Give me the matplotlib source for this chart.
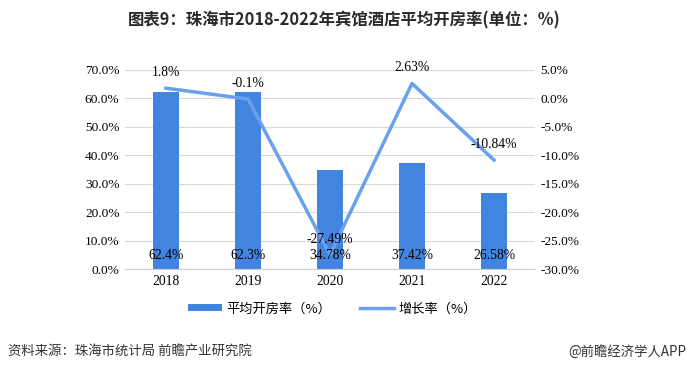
import matplotlib.pyplot as plt
import numpy as np

plt.rcParams['font.family'] = ['Noto Sans CJK SC', 'DejaVu Sans']

years = ['2018', '2019', '2020', '2021', '2022']
occupancy = [62.4, 62.3, 34.78, 37.42, 26.58]
growth = [1.8, -0.1, -27.49, 2.63, -10.84]
occ_labels = ['62.4%', '62.3%', '34.78%', '37.42%', '26.58%']
growth_labels = ['1.8%', '-0.1%', '-27.49%', '2.63%', '-10.84%']

bar_color = '#4285e0'
line_color = '#6aa0ec'
serif = 'Liberation Serif'

fig = plt.figure(figsize=(6.89, 3.73), dpi=100)
ax = fig.add_axes([125 / 689, 1 - 269 / 373, 410 / 689, 199 / 373])
ax2 = ax.twinx()

x = np.arange(len(years))
ax.bar(x, occupancy, width=0.32, color=bar_color, zorder=2, label='平均开房率（%）')
ax.set_xlim(-0.5, 4.5)
ax.set_ylim(0, 70)
ax.set_yticks(np.arange(0, 71, 10))
ax.set_yticklabels([f'{v:.1f}%' for v in np.arange(0, 71, 10)], fontfamily=serif, fontsize=9.6)
ax.set_xticks(x)
ax.set_xticklabels(years, fontfamily=serif, fontsize=9.8)
ax.grid(axis='y', color='#d9d9d9', linewidth=0.8, zorder=0)
ax.set_axisbelow(True)
for s in ['top', 'right', 'left']:
    ax.spines[s].set_visible(False)
ax.spines['bottom'].set_color('#d0d0d0')
ax.tick_params(length=0, pad=4)

ax2.plot(x, growth, color=line_color, linewidth=2.5, label='增长率（%）', zorder=3)
ax2.set_ylim(-30, 5)
ticks2 = np.arange(-30, 6, 5)
ax2.set_yticks(ticks2)
ax2.set_yticklabels([f'{v:.1f}%' for v in ticks2], fontfamily=serif, fontsize=9.6)
for s in ax2.spines.values():
    s.set_visible(False)
ax2.tick_params(length=0, pad=4)

# bar value labels drawn on top of the line
for xi, lab in zip(x, occ_labels):
    ax2.text(xi, 2.5, lab, transform=ax.transData, ha='center', va='bottom',
             fontfamily=serif, fontsize=9.8, zorder=5)
for xi, v, lab in zip(x, growth, growth_labels):
    ax2.text(xi, v + 1.6, lab, ha='center', va='bottom', fontfamily=serif, fontsize=9.8, zorder=5)

fig.text(0.5, 1 - 20 / 373, '图表9：珠海市2018-2022年宾馆酒店平均开房率(单位：%)',
         ha='center', va='center', fontsize=11.8, fontweight='bold', color='#2a2a2a')

h1, l1 = ax.get_legend_handles_labels()
h2, l2 = ax2.get_legend_handles_labels()
fig.legend(h1 + h2, l1 + l2, loc='center', bbox_to_anchor=(332 / 689, 1 - 309 / 373),
           ncol=2, frameon=False, fontsize=9.5, handlelength=2.6, handleheight=0.45,
           columnspacing=2.2, handletextpad=0.3)

fig.text(8 / 689, 1 - 352 / 373, '资料来源：珠海市统计局 前瞻产业研究院', ha='left', va='center',
         fontsize=9.6, color='#333333')
fig.text(1 - 3 / 689, 1 - 352 / 373, '@前瞻经济学人APP', ha='right', va='center',
         fontsize=9.6, color='#333333')

fig.savefig('out.png', dpi=100)
